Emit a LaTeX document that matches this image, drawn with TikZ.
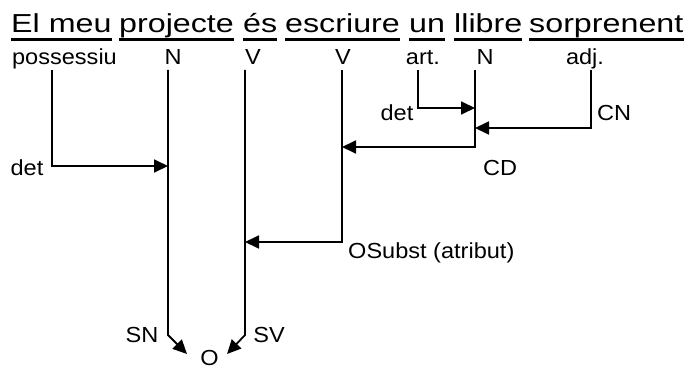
\documentclass[tikz,border=0pt]{standalone}
\usepackage{fontspec}
\setmainfont{Liberation Sans}
\usetikzlibrary{arrows.meta}
\newcommand{\ttl}[1]{\scalebox{1.24}[1]{\fontsize{26}{30}\selectfont #1}}
\newcommand{\lbl}[1]{\scalebox{1.08}[1]{\fontsize{21.8}{25}\selectfont #1}}
\begin{document}
\begin{tikzpicture}[x=1pt,y=-1pt,
  tw/.style={inner sep=0pt,anchor=base west},
  lb/.style={inner sep=0pt,anchor=base},
  lbw/.style={inner sep=0pt,anchor=base west},
  arr/.style={line width=1.8pt,-{Triangle[length=14pt,width=13pt]}},
  ul/.style={line width=3pt}]
\useasboundingbox (0,0) rectangle (688,369);
% title words
\node[tw] (w1) at (11,33) {\ttl{El meu}};
\node[tw] (w2) at (119,33) {\ttl{projecte}};
\node[tw] (w3) at (243,33) {\ttl{és}};
\node[tw] (w4) at (285,33) {\ttl{escriure}};
\node[tw] (w5) at (409,33) {\ttl{un}};
\node[tw] (w6) at (454,33) {\ttl{llibre}};
\node[tw] (w7) at (529,33) {\ttl{sorprenent}};
\foreach \w in {w1,w2,w3,w4,w5,w6,w7}
  \draw[ul] ([yshift=-7pt]\w.base west) -- ([yshift=-7pt]\w.base east);
% category labels
\node[lb] (pos) at (64.5,65) {\lbl{possessiu}};
\node[lb] (n1) at (173,65) {\lbl{N}};
\node[lb] (v1) at (253,65) {\lbl{V}};
\node[lb] (v2) at (343,65) {\lbl{V}};
\node[lb] (art) at (423,65) {\lbl{art.}};
\node[lb] (n2) at (485,65) {\lbl{N}};
\node[lb] (adj) at (585,65) {\lbl{adj.}};
% function labels
\node[lb] (detA) at (27,175) {\lbl{det}};
\node[lb] (detB) at (397,120) {\lbl{det}};
\node[lb] (cn) at (614,120) {\lbl{CN}};
\node[lb] (cd) at (500,175) {\lbl{CD}};
\node[lbw] (os) at (348,258) {\lbl{OSubst (atribut)}};
\node[lb] (sn) at (142,342) {\lbl{SN}};
\node[lb] (sv) at (269,342) {\lbl{SV}};
\node[lb] (o) at (209.5,365) {\lbl{O}};
% line coordinates
\coordinate (posT) at (52,70);
\coordinate (n1T) at (168,70);
\coordinate (v1T) at (245,70);
\coordinate (v2T) at (342,70);
\coordinate (artT) at (418,70);
\coordinate (n2T) at (475,70);
\coordinate (adjT) at (591,70);
\coordinate (n1det) at (168,166);
\coordinate (n2det) at (475,108);
\coordinate (n2cn) at (475,128);
\coordinate (v2cd) at (342,147);
\coordinate (v1os) at (245,242);
\coordinate (n1B) at (168,335);
\coordinate (v1B) at (245,335);
\coordinate (oL) at (187,354);
\coordinate (oR) at (227,354);
% connectors
\draw[arr] (posT) |- (n1det);
\draw[arr] (artT) |- (n2det);
\draw[arr] (adjT) |- (n2cn);
\draw[arr] (n2T) |- (v2cd);
\draw[arr] (v2T) |- (v1os);
\draw[arr] (n1T) -- (n1B) -- (oL);
\draw[arr] (v1T) -- (v1B) -- (oR);
\end{tikzpicture}
\end{document}
